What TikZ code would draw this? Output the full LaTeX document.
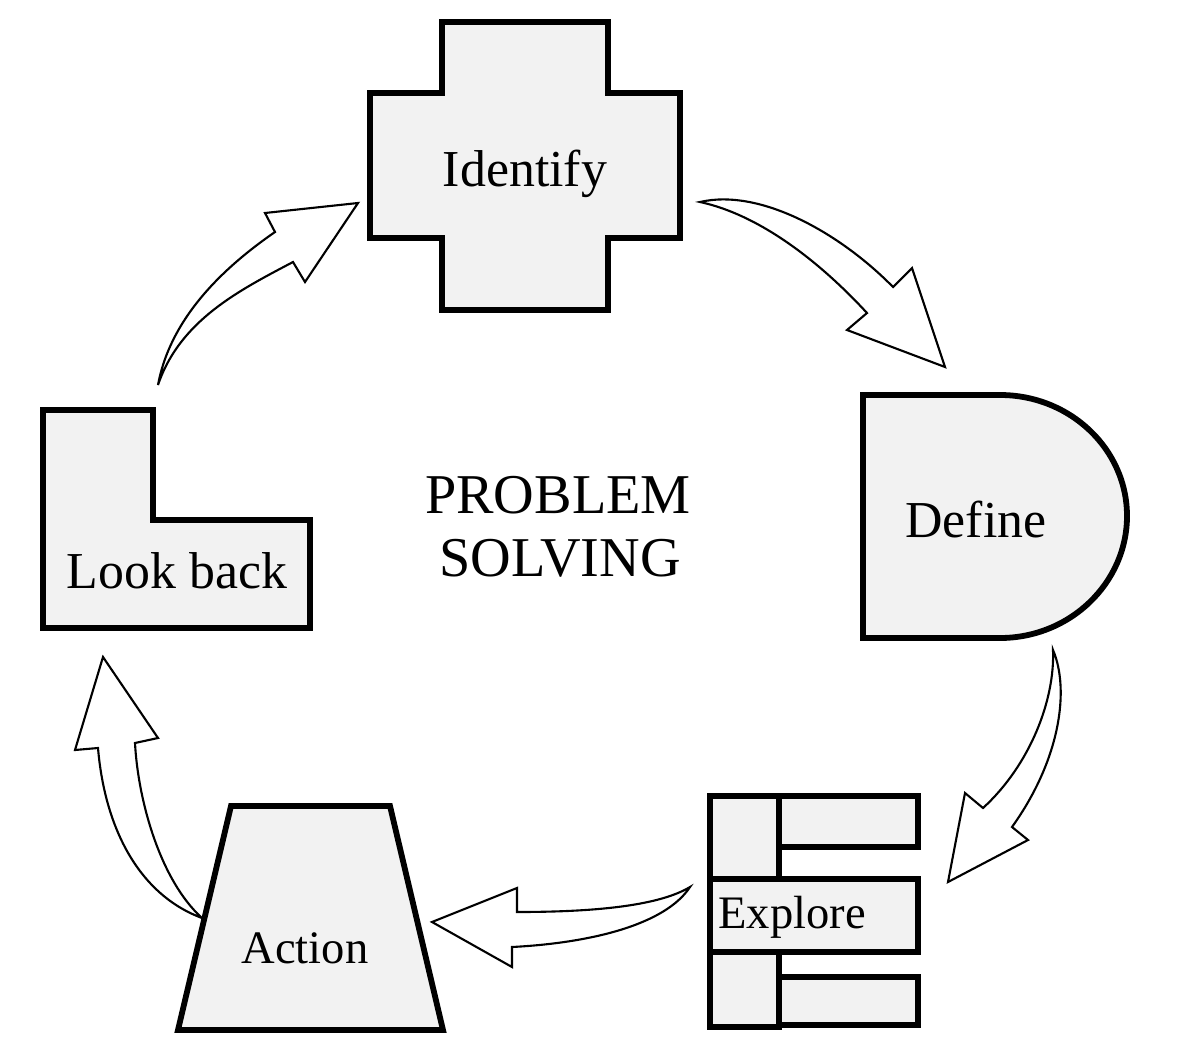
\documentclass[tikz,border=0pt]{standalone}
\usepackage{fontspec}
\setmainfont{Liberation Serif}
\usetikzlibrary{arrows.meta}
\tikzset{>=stealth}
\definecolor{boxgray}{RGB}{242,242,242}
\tikzset{
	block/.style={draw=black,fill=boxgray,line width=3.3pt,line join=miter},
	bendarrow/.style={draw=black,fill=white,line width=1.2pt,line join=miter},
	bigtext/.style={anchor=base,font=\fontsize{29.5}{34}\selectfont},
	smalltext/.style={anchor=base,font=\fontsize{26.5}{31}\selectfont},
	centretext/.style={anchor=base,font=\fontsize{32}{37}\selectfont}
}

\begin{document}
\begin{tikzpicture}[x=0.02cm,y=-0.02cm]
			\useasboundingbox (0,0) rectangle (1200,1058);
			\draw[block] (442,22) -- (608,22) -- (608,93) -- (680,93) -- (680,238) -- (608,238) -- (608,310) -- (442,310) -- (442,238) -- (370,238) -- (370,93) -- (442,93) -- cycle;
			\node[bigtext] (identify) at (525,186) {Identify};
			\draw[block] (863,395) -- (1000,395) .. controls (1070,395) and (1127,449) .. (1127,516) .. controls (1127,583) and (1070,638) .. (1000,638) -- (863,638) -- cycle;
			\node[bigtext] (define) at (976,537) {Define};
			\draw[block] (710,796) rectangle (779,1027);
			\foreach \ya/\yb in {796/847,977/1025}
			\draw[block] (779,\ya) rectangle (918,\yb);
			\draw[block] (710,879) rectangle (918,952);
			\node[smalltext] (explore) at (792,928) {Explore};
			\draw[block] (231,806) -- (390,806) -- (443,1030) -- (178,1030) -- cycle;
			\node[smalltext] (action) at (305,963) {Action};
			\draw[block] (43,410) -- (153,410) -- (153,520) -- (310,520) -- (310,628) -- (43,628) -- cycle;
			\node[bigtext] (lookback) at (177,588) {Look back};
			\node[centretext] (problem) at (558,513) {PROBLEM};
			\node[centretext] (solving) at (560,576) {SOLVING};
			\draw[bendarrow] (700,202) .. controls (760,188) and (840,233) .. (893,287) -- (912,268) -- (945,367) -- (847,330) -- (867,313) .. controls (820,262) and (760,215) .. cycle;
			\draw[bendarrow] (1053,650) .. controls (1070,690) and (1060,760) .. (1012,827) -- (1028,840) -- (948,882) -- (965,793) -- (983,808) .. controls (1030,765) and (1055,700) .. cycle;
			\draw[bendarrow] (690,887) .. controls (660,905) and (600,912) .. (517,912) -- (517,888) -- (432,922) -- (512,967) -- (512,947) .. controls (590,943) and (665,925) .. cycle;
			\draw[bendarrow] (202,918) .. controls (140,895) and (105,830) .. (98,748) -- (75,750) -- (103,657) -- (158,738) -- (135,743) .. controls (138,800) and (160,880) .. cycle;
			\draw[bendarrow] (158,385) .. controls (170,320) and (220,270) .. (275,232) -- (265,213) -- (358,203) -- (305,282) -- (293,262) .. controls (240,290) and (180,320) .. cycle;
		\end{tikzpicture}
\end{document}
